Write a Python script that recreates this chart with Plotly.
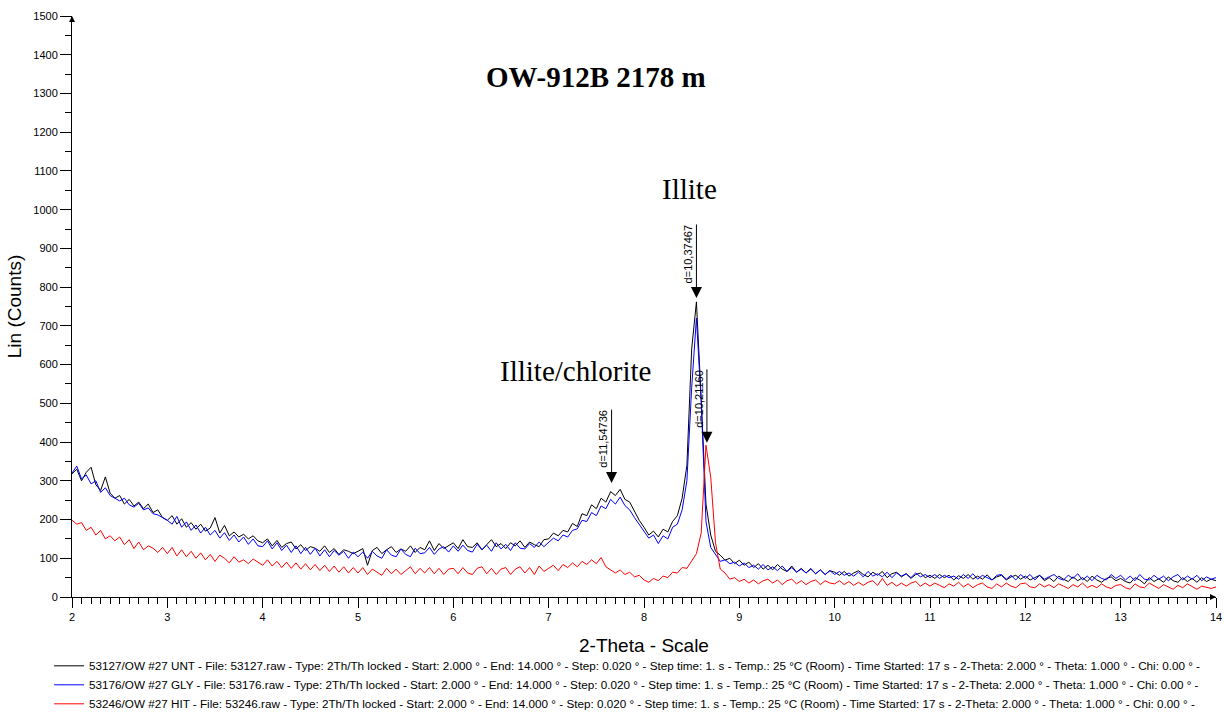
import plotly.graph_objects as go

# ---- measurement grid (from legend: start 2.000 deg, end 14.000 deg); values read every 0.05 deg
two_theta_start = 2.0
two_theta_step = 0.05

# ---- series values (counts), one row per degree: d.00 ... d.95
unt_counts = (
    [318, 330, 300, 322, 335, 290, 275, 310, 268, 255, 262, 240, 252, 235, 245, 228, 240, 218, 225, 205]  # 2
    + [198, 210, 188, 202, 180, 192, 175, 188, 170, 178, 205, 165, 185, 158, 168, 155, 162, 150, 158, 145]  # 3
    + [140, 150, 132, 146, 128, 138, 142, 124, 135, 120, 130, 126, 118, 132, 115, 125, 110, 122, 118, 112]  # 4
    + [118, 125, 82, 120, 128, 112, 122, 130, 115, 124, 118, 132, 115, 128, 122, 145, 120, 138, 125, 132]  # 5
    + [140, 125, 148, 130, 128, 140, 122, 135, 148, 130, 138, 125, 140, 132, 145, 128, 142, 135, 130, 148]  # 6
    + [150, 165, 158, 172, 168, 190, 182, 215, 210, 238, 228, 255, 245, 272, 262, 278, 252, 245, 222, 198]  # 7
    + [180, 160, 170, 155, 175, 168, 195, 210, 255, 340, 640, 762, 510, 240, 160, 118, 108, 95, 100, 86]  # 8
    + [95, 82, 90, 76, 86, 72, 82, 70, 84, 72, 66, 80, 64, 74, 62, 72, 60, 70, 58, 68]  # 9
    + [64, 56, 66, 54, 62, 68, 58, 52, 64, 56, 66, 50, 60, 64, 52, 60, 48, 58, 62, 50]  # 10
    + [56, 48, 58, 50, 56, 44, 55, 48, 58, 46, 54, 46, 57, 44, 52, 56, 44, 52, 56, 46]  # 11
    + [54, 44, 50, 56, 42, 50, 40, 54, 46, 40, 52, 42, 50, 40, 54, 44, 38, 48, 52, 42]  # 12
    + [48, 40, 36, 50, 44, 34, 50, 40, 47, 38, 52, 42, 38, 50, 40, 48, 38, 50, 40, 46]  # 13
    + [42]  # 14
)

gly_counts = (
    [320, 338, 305, 315, 292, 300, 270, 282, 262, 255, 248, 255, 238, 232, 242, 225, 230, 215, 212, 205]  # 2
    + [198, 188, 208, 180, 194, 172, 186, 165, 180, 160, 172, 152, 166, 146, 160, 142, 155, 136, 150, 132]  # 3
    + [130, 145, 124, 140, 120, 134, 115, 132, 112, 128, 110, 126, 106, 122, 104, 120, 108, 118, 100, 116]  # 4
    + [104, 116, 100, 118, 106, 100, 122, 108, 104, 124, 110, 104, 126, 112, 114, 128, 110, 124, 130, 116]  # 5
    + [132, 118, 134, 120, 116, 136, 122, 134, 118, 140, 124, 136, 120, 140, 126, 124, 138, 128, 142, 130]  # 6
    + [140, 152, 145, 160, 155, 172, 176, 198, 195, 218, 210, 235, 228, 252, 240, 258, 236, 225, 205, 188]  # 7
    + [172, 152, 160, 138, 158, 150, 180, 188, 225, 300, 540, 720, 505, 195, 128, 110, 92, 96, 86, 90]  # 8
    + [80, 88, 76, 82, 72, 84, 70, 78, 68, 80, 66, 76, 64, 72, 62, 74, 60, 70, 58, 68]  # 9
    + [58, 66, 56, 62, 54, 64, 52, 66, 54, 60, 52, 64, 50, 62, 54, 60, 50, 62, 52, 58]  # 10
    + [50, 58, 48, 56, 50, 54, 46, 58, 48, 60, 46, 56, 50, 44, 56, 58, 46, 56, 44, 58]  # 11
    + [48, 58, 44, 56, 46, 52, 58, 48, 44, 56, 48, 60, 44, 54, 42, 56, 48, 44, 58, 48]  # 12
    + [56, 44, 54, 42, 58, 46, 44, 56, 46, 54, 42, 52, 58, 44, 54, 46, 56, 42, 52, 46]  # 13
    + [50]  # 14
)

hit_counts = (
    [198, 188, 192, 172, 180, 160, 172, 150, 158, 145, 155, 135, 148, 125, 142, 122, 132, 126, 115, 128]  # 2
    + [112, 128, 106, 122, 104, 118, 100, 114, 96, 110, 92, 108, 100, 88, 104, 90, 96, 86, 98, 90]  # 3
    + [82, 96, 80, 92, 76, 90, 74, 88, 72, 86, 70, 84, 68, 82, 66, 80, 64, 78, 62, 76]  # 4
    + [62, 76, 58, 72, 64, 56, 74, 60, 72, 58, 68, 78, 60, 74, 62, 76, 60, 74, 58, 72]  # 5
    + [74, 60, 76, 62, 58, 74, 78, 60, 74, 58, 72, 76, 58, 72, 78, 62, 76, 58, 80, 66]  # 6
    + [74, 82, 68, 84, 76, 88, 78, 92, 84, 96, 86, 102, 78, 70, 62, 70, 58, 64, 52, 56]  # 7
    + [44, 38, 48, 42, 54, 50, 64, 62, 76, 74, 92, 112, 165, 392, 310, 140, 72, 62, 46, 50]  # 8
    + [40, 46, 36, 44, 34, 42, 46, 36, 44, 32, 42, 46, 34, 42, 32, 40, 44, 32, 42, 36]  # 9
    + [34, 42, 32, 40, 30, 38, 30, 38, 42, 30, 48, 30, 38, 28, 36, 28, 36, 40, 28, 36]  # 10
    + [28, 36, 30, 24, 34, 28, 38, 26, 34, 24, 32, 36, 26, 22, 34, 26, 36, 28, 24, 34]  # 11
    + [36, 26, 24, 34, 26, 32, 24, 34, 28, 22, 32, 26, 36, 24, 30, 24, 34, 26, 22, 30]  # 12
    + [32, 24, 20, 34, 26, 24, 36, 28, 22, 32, 26, 20, 30, 24, 34, 26, 20, 28, 24, 22]  # 13
    + [26]  # 14
)

series_names = [
    "53127/OW #27 UNT - File: 53127.raw - Type: 2Th/Th locked - Start: 2.000 ° - End: 14.000 ° - Step: 0.020 ° - Step time: 1. s - Temp.: 25 °C (Room) - Time Started: 17 s - 2-Theta: 2.000 ° - Theta: 1.000 ° - Chi: 0.00 ° -",
    "53176/OW #27 GLY - File: 53176.raw - Type: 2Th/Th locked - Start: 2.000 ° - End: 14.000 ° - Step: 0.020 ° - Step time: 1. s - Temp.: 25 °C (Room) - Time Started: 17 s - 2-Theta: 2.000 ° - Theta: 1.000 ° - Chi: 0.00 ° -",
    "53246/OW #27 HIT - File: 53246.raw - Type: 2Th/Th locked - Start: 2.000 ° - End: 14.000 ° - Step: 0.020 ° - Step time: 1. s - Temp.: 25 °C (Room) - Time Started: 17 s - 2-Theta: 2.000 ° - Theta: 1.000 ° - Chi: 0.00 ° -",
]
series_colors = ["#000000", "#0000ff", "#ff0000"]

# ---- peak markers (d-spacing labels)
peak_two_theta = [7.66, 8.55, 8.66]
peak_counts = [294, 772, 398]
peak_labels = ["d=11,54736", "d=10,37467", "d=10,21160"]

# ---- mineral labels
mineral_labels = ["Illite/chlorite", "Illite"]
mineral_two_theta = [7.28, 8.48]
mineral_counts = [583, 1053]

title_text = "OW-912B 2178 m"

x_tick_vals = list(range(2, 15))
y_tick_vals = list(range(0, 1501, 100))


def grid(n):
    return [round(two_theta_start + two_theta_step * i, 3) for i in range(n)]


fig = go.Figure()
for name, counts, color in zip(series_names, [unt_counts, gly_counts, hit_counts], series_colors):
    fig.add_trace(go.Scatter(
        x=grid(len(counts)), y=counts, mode="lines", name=name,
        line=dict(color=color, width=1),
    ))

annotations = []
for px_, py_, lab in zip(peak_two_theta, peak_counts, peak_labels):
    annotations.append(dict(
        x=px_, y=py_, xref="x", yref="y", text="", showarrow=True,
        ax=0, ay=-75, arrowhead=2, arrowsize=2.2, arrowwidth=1, arrowcolor="black",
    ))
    annotations.append(dict(
        x=px_, y=py_, xref="x", yref="y", text=lab, showarrow=False,
        textangle=-90, xshift=-8, yshift=44,
        font=dict(family="Liberation Sans, Arial", size=11, color="black"),
    ))

for lab, mx, my in zip(mineral_labels, mineral_two_theta, mineral_counts):
    annotations.append(dict(
        x=mx, y=my, xref="x", yref="y", text=lab, showarrow=False,
        font=dict(family="Liberation Serif, Times New Roman", size=29, color="black"),
    ))

annotations.append(dict(
    x=0.458, y=0.926, xref="paper", yref="paper", text="<b>" + title_text + "</b>",
    showarrow=False, font=dict(family="Liberation Serif, Times New Roman", size=29, color="black"),
))

# axis end arrows
annotations.append(dict(x=1, y=0, xref="paper", yref="paper", text="", showarrow=True,
                        ax=-7, ay=0, arrowhead=2, arrowsize=1, arrowwidth=1.2, arrowcolor="black"))
annotations.append(dict(x=0, y=1, xref="paper", yref="paper", text="", showarrow=True,
                        ax=0, ay=7, arrowhead=2, arrowsize=1, arrowwidth=1.2, arrowcolor="black"))

fig.update_layout(
    width=1224, height=712,
    margin=dict(l=72, r=8, t=16, b=115, autoexpand=False),
    paper_bgcolor="white", plot_bgcolor="white",
    font=dict(family="Liberation Sans, Arial", size=11, color="black"),
    showlegend=True,
    legend=dict(
        x=-0.02, y=-0.0935, xanchor="left", yanchor="top",
        font=dict(family="Liberation Sans, Arial", size=11.7, color="black"),
        itemwidth=30, bgcolor="rgba(0,0,0,0)", tracegroupgap=0,
    ),
    annotations=annotations,
    xaxis=dict(
        range=[2, 14], tickvals=x_tick_vals, ticks="outside", ticklen=10, tickwidth=1,
        tickcolor="black", showline=True, linecolor="black", linewidth=1,
        showgrid=False, zeroline=False,
        minor=dict(dtick=0.1, ticks="outside", ticklen=6, tickcolor="black", showgrid=False),
        tickfont=dict(size=11),
        title=dict(text="2-Theta - Scale", font=dict(size=19), standoff=16),
    ),
    yaxis=dict(
        range=[0, 1500], tickvals=y_tick_vals, ticks="outside", ticklen=11, tickwidth=1,
        tickcolor="black", showline=True, linecolor="black", linewidth=1,
        showgrid=False, zeroline=False,
        minor=dict(dtick=50, ticks="outside", ticklen=6, tickcolor="black", showgrid=False),
        tickfont=dict(size=11),
        title=dict(text="Lin (Counts)", font=dict(size=19), standoff=6),
    ),
)

fig.write_html("out.html")
